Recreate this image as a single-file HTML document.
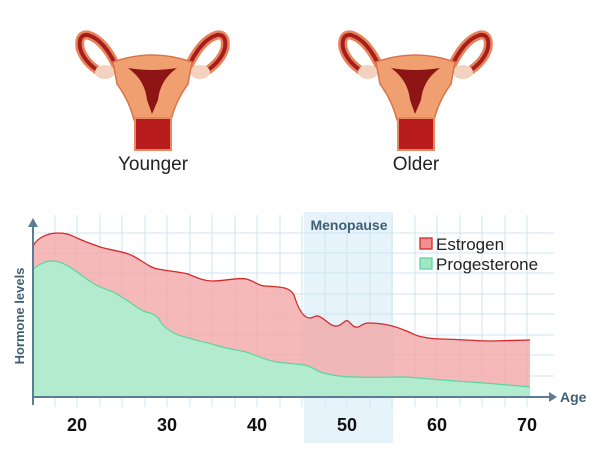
<!DOCTYPE html>
<html><head><meta charset="utf-8"><style>
html,body{margin:0;padding:0;background:#fff;}
svg{display:block;font-family:"Liberation Sans",sans-serif;}
</style></head><body>
<svg width="600" height="460" viewBox="0 0 600 460">
<defs>
<g id="ut">
  <path d="M118 70 Q105 40 88 35 Q78 34 80 48 Q84 62 100 72" fill="none" stroke="#e9835a" stroke-width="9"/>
  <path d="M118 70 Q105 40 88 35 Q78 34 80 48 Q84 62 100 72" fill="none" stroke="#a41e1e" stroke-width="4"/>
  <path d="M187 70 Q200 40 217 35 Q227 34 225 48 Q221 62 205 72" fill="none" stroke="#e9835a" stroke-width="9"/>
  <path d="M187 70 Q200 40 217 35 Q227 34 225 48 Q221 62 205 72" fill="none" stroke="#a41e1e" stroke-width="4"/>
  <ellipse cx="105" cy="72" rx="10" ry="7" fill="#f4d2c0"/>
  <ellipse cx="200" cy="72" rx="10" ry="7" fill="#f4d2c0"/>
  <path d="M113 62 Q152 48 192 62 L188 84 Q176 100 171 120 L134 120 Q129 100 117 84 Z" fill="#f0a070" stroke="#d9744a" stroke-width="1.5"/>
  <path d="M128 68 Q152 72 177 68 Q160 80 158 100 L152 114 L147 100 Q145 80 128 68 Z" fill="#8c1414"/>
  <rect x="135" y="118" width="36" height="32" fill="#b81c1c" stroke="#e48a5e" stroke-width="2"/>
</g>
</defs>
<use href="#ut"/>
<use href="#ut" x="263"/>
<text x="153" y="170" font-size="19" text-anchor="middle" fill="#222">Younger</text>
<text x="416" y="170" font-size="19" text-anchor="middle" fill="#222">Older</text>

<rect x="304" y="212" width="89" height="231" fill="#e6f3fa"/>
<g stroke="#cfe4f0" stroke-width="1">
  <line x1="33" y1="233" x2="554" y2="233"/><line x1="33" y1="253" x2="554" y2="253"/>
  <line x1="33" y1="273" x2="554" y2="273"/><line x1="33" y1="294" x2="554" y2="294"/>
  <line x1="33" y1="314" x2="554" y2="314"/><line x1="33" y1="335" x2="554" y2="335"/>
  <line x1="33" y1="355" x2="554" y2="355"/><line x1="33" y1="376" x2="554" y2="376"/>
  <line x1="55" y1="215" x2="55" y2="407"/><line x1="77" y1="215" x2="77" y2="407"/>
  <line x1="100" y1="215" x2="100" y2="407"/><line x1="122" y1="215" x2="122" y2="407"/>
  <line x1="145" y1="215" x2="145" y2="407"/><line x1="167" y1="215" x2="167" y2="407"/>
  <line x1="190" y1="215" x2="190" y2="407"/><line x1="212" y1="215" x2="212" y2="407"/>
  <line x1="235" y1="215" x2="235" y2="407"/><line x1="257" y1="215" x2="257" y2="407"/>
  <line x1="280" y1="215" x2="280" y2="407"/><line x1="302" y1="215" x2="302" y2="407"/>
  <line x1="325" y1="215" x2="325" y2="407"/><line x1="347" y1="215" x2="347" y2="407"/>
  <line x1="370" y1="215" x2="370" y2="407"/><line x1="392" y1="215" x2="392" y2="407"/>
  <line x1="415" y1="215" x2="415" y2="407"/><line x1="437" y1="215" x2="437" y2="407"/>
  <line x1="460" y1="215" x2="460" y2="407"/><line x1="482" y1="215" x2="482" y2="407"/>
  <line x1="505" y1="215" x2="505" y2="407"/><line x1="527" y1="215" x2="527" y2="407"/>
</g>
<path d="M33 397 L33 247 C35 240 45 233 58 233 C68 233 72 236 77 238 C88 243 95 245 100 247 C115 251 125 252 131 255 C140 259 150 268 158 269 C168 271 180 272 188 274 C200 279 205 281 212 281 C225 281 240 277 246 279 C255 281 258 286 265 286 C285 287 290 288 294 295 C297 305 302 318 310 318 C314 318 315 315 318 316 C325 318 330 327 337 326 C343 325 345 319 348 321 C352 324 353 328 358 327 C362 326 362 323 369 323 C380 323 392 325 404 330 C412 333 418 337 423 337 C432 339 438 339 442 339 C470 340 480 341 492 341 L530 340 L530 397 Z" fill="#f3a8a8" fill-opacity="0.8" stroke="none"/>
<path d="M33 247 C35 240 45 233 58 233 C68 233 72 236 77 238 C88 243 95 245 100 247 C115 251 125 252 131 255 C140 259 150 268 158 269 C168 271 180 272 188 274 C200 279 205 281 212 281 C225 281 240 277 246 279 C255 281 258 286 265 286 C285 287 290 288 294 295 C297 305 302 318 310 318 C314 318 315 315 318 316 C325 318 330 327 337 326 C343 325 345 319 348 321 C352 324 353 328 358 327 C362 326 362 323 369 323 C380 323 392 325 404 330 C412 333 418 337 423 337 C432 339 438 339 442 339 C470 340 480 341 492 341 L530 340" fill="none" stroke="#d42a2a" stroke-width="1.3"/>
<path d="M33 397 L33 270 C37 265 45 261 52 261 C60 261 68 265 77 272 C88 280 95 285 100 287 C108 290 112 291 115 293 C122 297 126 300 131 303 C138 308 142 311 146 312 C152 313 156 316 158 318 C162 324 165 328 169 330 C175 334 180 336 185 337 C198 341 205 342 215 345 C228 349 238 350 246 352 C258 356 268 361 277 362 C290 364 300 364 304 365 C312 366 316 371 323 373 C335 376 345 377 354 377 C375 378 390 377 404 377 C420 378 430 379 442 380 C470 382 500 384 530 387 L530 397 Z" fill="#b3ebcf" stroke="none"/>
<path d="M33 270 C37 265 45 261 52 261 C60 261 68 265 77 272 C88 280 95 285 100 287 C108 290 112 291 115 293 C122 297 126 300 131 303 C138 308 142 311 146 312 C152 313 156 316 158 318 C162 324 165 328 169 330 C175 334 180 336 185 337 C198 341 205 342 215 345 C228 349 238 350 246 352 C258 356 268 361 277 362 C290 364 300 364 304 365 C312 366 316 371 323 373 C335 376 345 377 354 377 C375 378 390 377 404 377 C420 378 430 379 442 380 C470 382 500 384 530 387" fill="none" stroke="#5ed4a0" stroke-width="1.2"/>

<line x1="33" y1="397" x2="552" y2="397" stroke="#5b7d94" stroke-width="2"/>
<path d="M549 392 L557 397 L549 402 Z" fill="#5b7d94"/>
<line x1="33" y1="405" x2="33" y2="224" stroke="#5b7d94" stroke-width="2"/>
<path d="M28 227 L33 218 L38 227 Z" fill="#5b7d94"/>
<text x="560" y="402" font-size="14" font-weight="bold" fill="#3f5f75">Age</text>
<text transform="translate(24,316) rotate(-90)" font-size="13" font-weight="bold" fill="#3f5f75" text-anchor="middle">Hormone levels</text>
<text x="349" y="230" font-size="14" font-weight="bold" fill="#3f5f75" text-anchor="middle">Menopause</text>
<rect x="420" y="238" width="12" height="11" fill="#f08f8f" stroke="#d42a2a" stroke-width="1.3"/>
<text x="436" y="250" font-size="17" fill="#222">Estrogen</text>
<rect x="420" y="258" width="12" height="11" fill="#9ee8c4" stroke="#5ed4a0" stroke-width="1.3"/>
<text x="436" y="270" font-size="17" fill="#222">Progesterone</text>
<g font-size="18" font-weight="bold" fill="#111" text-anchor="middle">
<text x="77" y="431">20</text><text x="167" y="431">30</text><text x="257" y="431">40</text>
<text x="347" y="431">50</text><text x="437" y="431">60</text><text x="527" y="431">70</text>
</g>
</svg>
</body></html>
